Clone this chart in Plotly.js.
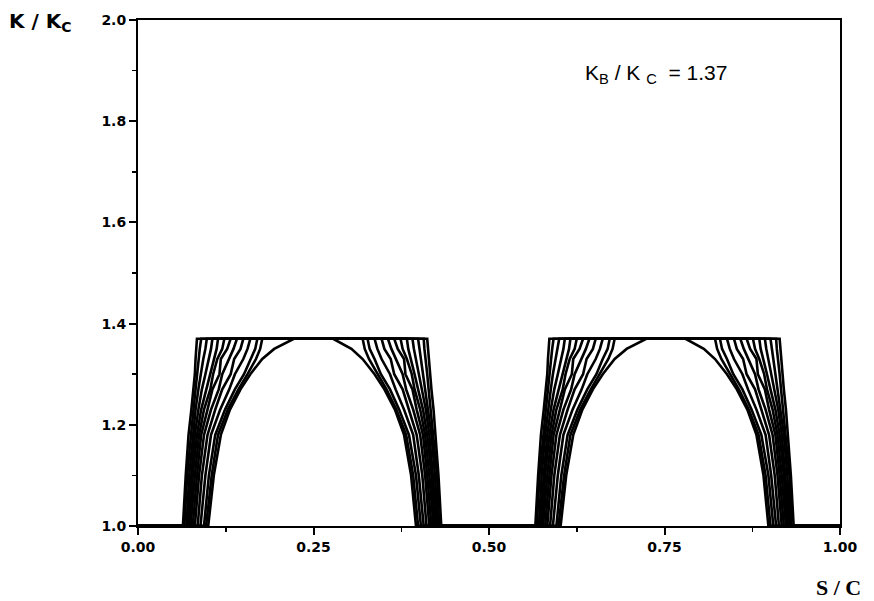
<!DOCTYPE html>
<html>
<head>
<meta charset="utf-8">
<script src="https://cdn.plot.ly/plotly-3.0.1.min.js"></script>
<style>html,body{margin:0;padding:0;background:#fff;}#chart{width:874px;height:601px;}</style>
</head>
<body>
<div id="chart"></div>
<script>
// K/Kc levels at which the flank positions (S/C) were read
const kLevels = [1.00, 1.10, 1.18, 1.23, 1.27, 1.30, 1.33, 1.35, 1.37];

// Hump 1, rising flank: S/C at each level, one row per curve (outer -> inner, last = dome)
const hump1Left = [
  [0.064,0.068,0.072,0.076,0.079,0.081,0.082,0.083,0.084],
  [0.066,0.070,0.075,0.079,0.082,0.084,0.086,0.088,0.090],
  [0.069,0.073,0.078,0.082,0.086,0.089,0.093,0.096,0.098],
  [0.071,0.076,0.081,0.086,0.091,0.096,0.101,0.104,0.106],
  [0.073,0.078,0.084,0.090,0.097,0.103,0.108,0.112,0.114],
  [0.075,0.081,0.087,0.094,0.103,0.107,0.113,0.120,0.123],
  [0.078,0.084,0.090,0.099,0.106,0.116,0.118,0.127,0.132],
  [0.081,0.087,0.094,0.104,0.115,0.120,0.130,0.136,0.141],
  [0.085,0.091,0.099,0.110,0.120,0.132,0.137,0.146,0.150],
  [0.089,0.096,0.104,0.117,0.130,0.138,0.150,0.156,0.160],
  [0.094,0.101,0.110,0.124,0.138,0.151,0.160,0.167,0.170],
  [0.097,0.105,0.114,0.128,0.143,0.156,0.168,0.174,0.177],
  [0.100,0.108,0.118,0.131,0.146,0.160,0.177,0.194,0.222]
];
// Hump 1, falling flank
const hump1Right = [
  [0.432,0.428,0.424,0.421,0.418,0.416,0.414,0.413,0.412],
  [0.429,0.426,0.421,0.417,0.414,0.412,0.410,0.408,0.407],
  [0.427,0.423,0.418,0.414,0.410,0.407,0.404,0.401,0.399],
  [0.425,0.420,0.415,0.410,0.405,0.400,0.396,0.393,0.391],
  [0.423,0.418,0.412,0.406,0.399,0.394,0.389,0.385,0.383],
  [0.421,0.415,0.409,0.402,0.394,0.390,0.383,0.377,0.374],
  [0.418,0.412,0.406,0.397,0.391,0.381,0.379,0.370,0.365],
  [0.415,0.409,0.402,0.392,0.382,0.377,0.367,0.361,0.356],
  [0.411,0.405,0.397,0.386,0.377,0.365,0.360,0.351,0.347],
  [0.407,0.400,0.392,0.379,0.367,0.359,0.347,0.341,0.337],
  [0.403,0.396,0.386,0.372,0.359,0.346,0.337,0.330,0.327],
  [0.399,0.392,0.382,0.368,0.354,0.341,0.329,0.323,0.320],
  [0.396,0.389,0.379,0.366,0.351,0.337,0.320,0.304,0.278]
];
// Hump 2, rising flank
const hump2Left = [
  [0.566,0.570,0.574,0.578,0.581,0.583,0.584,0.585,0.586],
  [0.568,0.572,0.577,0.581,0.584,0.586,0.588,0.590,0.592],
  [0.571,0.575,0.580,0.584,0.588,0.591,0.595,0.598,0.600],
  [0.573,0.578,0.583,0.588,0.593,0.598,0.603,0.606,0.608],
  [0.575,0.580,0.586,0.592,0.599,0.605,0.610,0.614,0.616],
  [0.577,0.583,0.589,0.596,0.605,0.609,0.615,0.622,0.625],
  [0.580,0.586,0.592,0.601,0.608,0.618,0.620,0.629,0.634],
  [0.583,0.589,0.596,0.606,0.617,0.622,0.632,0.638,0.643],
  [0.587,0.593,0.601,0.612,0.622,0.634,0.639,0.648,0.652],
  [0.591,0.598,0.606,0.619,0.632,0.640,0.652,0.658,0.662],
  [0.596,0.603,0.612,0.626,0.640,0.653,0.662,0.669,0.672],
  [0.599,0.607,0.616,0.630,0.645,0.658,0.670,0.676,0.679],
  [0.602,0.610,0.620,0.633,0.648,0.662,0.679,0.696,0.724]
];
// Hump 2, falling flank
const hump2Right = [
  [0.934,0.930,0.926,0.923,0.920,0.918,0.916,0.915,0.914],
  [0.931,0.928,0.923,0.919,0.916,0.914,0.912,0.910,0.909],
  [0.929,0.925,0.920,0.916,0.912,0.909,0.906,0.903,0.901],
  [0.927,0.922,0.917,0.912,0.907,0.902,0.898,0.895,0.893],
  [0.925,0.920,0.914,0.908,0.901,0.896,0.891,0.887,0.885],
  [0.923,0.917,0.911,0.904,0.896,0.892,0.885,0.879,0.876],
  [0.920,0.914,0.908,0.899,0.893,0.883,0.881,0.872,0.867],
  [0.917,0.911,0.904,0.894,0.884,0.879,0.869,0.863,0.858],
  [0.913,0.907,0.899,0.888,0.879,0.867,0.862,0.853,0.849],
  [0.909,0.902,0.894,0.881,0.869,0.861,0.849,0.843,0.839],
  [0.905,0.898,0.888,0.874,0.861,0.848,0.839,0.832,0.829],
  [0.901,0.894,0.884,0.870,0.856,0.843,0.831,0.825,0.822],
  [0.898,0.891,0.881,0.868,0.853,0.839,0.822,0.806,0.780]
];

const xTickVals = [0, 0.25, 0.5, 0.75, 1.0];
const xTickText = ["0.00", "0.25", "0.50", "0.75", "1.00"];
const yTickVals = [1.0, 1.2, 1.4, 1.6, 1.8, 2.0];
const yTickText = ["1.0", "1.2", "1.4", "1.6", "1.8", "2.0"];
const xStart = 0, xEnd = 1, kBase = 1.0;

const traces = [];
const levelsDown = kLevels.slice().reverse();
for (let i = 0; i < hump1Left.length; i++) {
  const xs = [xStart].concat(hump1Left[i], hump1Right[i].slice().reverse(),
                              hump2Left[i], hump2Right[i].slice().reverse(), [xEnd]);
  const ys = [kBase].concat(kLevels, levelsDown, kLevels, levelsDown, [kBase]);
  traces.push({
    x: xs, y: ys, type: 'scatter', mode: 'lines',
    line: {color: '#000', width: 2.6, shape: 'linear'},
    hoverinfo: 'skip', showlegend: false, cliponaxis: true
  });
}

const tickFont = {family: 'DejaVu Sans', size: 14, color: '#000', weight: 'bold'};
const layout = {
  width: 874, height: 601,
  margin: {l: 138, r: 34, t: 20, b: 75, pad: 0},
  paper_bgcolor: '#fff', plot_bgcolor: '#fff',
  showlegend: false,
  xaxis: {
    range: [0, 1], tickvals: xTickVals, ticktext: xTickText,
    ticks: 'outside', ticklen: 7, tickwidth: 2, tickcolor: '#000',
    showline: true, linecolor: '#000', linewidth: 2, mirror: true,
    showgrid: false, zeroline: false, tickfont: tickFont,
    minor: {dtick: 0.125, ticks: 'outside', ticklen: 4, tickwidth: 1.5, tickcolor: '#000', showgrid: false}
  },
  yaxis: {
    range: [1, 2], tickvals: yTickVals, ticktext: yTickText,
    ticks: 'outside', ticklen: 7, tickwidth: 2, tickcolor: '#000',
    showline: true, linecolor: '#000', linewidth: 2, mirror: true,
    showgrid: false, zeroline: false, tickfont: tickFont,
    minor: {dtick: 0.1, ticks: 'outside', ticklen: 4, tickwidth: 1.5, tickcolor: '#000', showgrid: false}
  },
  annotations: [
    {text: 'K / K<sub>C</sub>', xref: 'paper', yref: 'paper', x: -0.186, y: 1.026,
     xanchor: 'left', yanchor: 'top', showarrow: false,
     font: {family: 'DejaVu Sans', size: 20, color: '#000', weight: 'bold'}},
    {text: 'K<sub>B</sub> / K <sub>C</sub>  = 1.37', xref: 'paper', yref: 'paper', x: 0.634, y: 0.922,
     xanchor: 'left', yanchor: 'top', showarrow: false,
     font: {family: 'Liberation Sans', size: 21, color: '#000'}},
    {text: 'S / C', xref: 'paper', yref: 'paper', x: 0.963, y: -0.121,
     xanchor: 'left', yanchor: 'middle', showarrow: false,
     font: {family: 'Liberation Serif', size: 22, color: '#000', weight: 'bold'}}
  ]
};

Plotly.newPlot('chart', traces, layout, {staticPlot: true, displayModeBar: false});
</script>
</body>
</html>
